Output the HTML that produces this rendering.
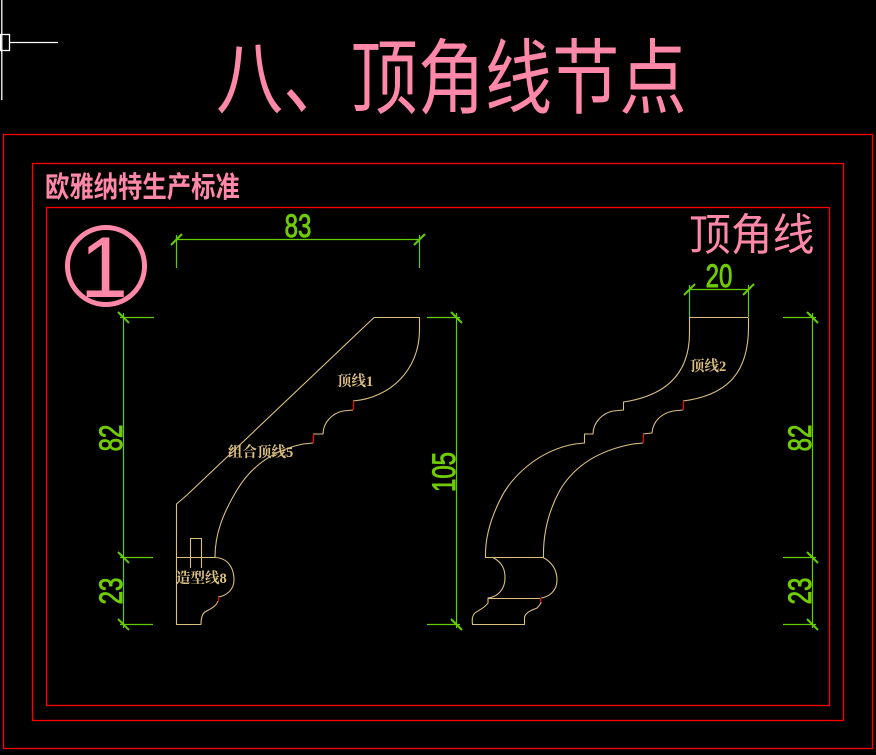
<!DOCTYPE html>
<html>
<head>
<meta charset="utf-8">
<style>
html,body{margin:0;padding:0;background:#000;}
body{width:876px;height:755px;overflow:hidden;}
svg{display:block;}
.cjk{font-family:"Liberation Sans","Noto Sans CJK SC",sans-serif;}
.lbl{font-family:"Liberation Serif","Noto Serif CJK SC",serif;font-weight:bold;fill:#dcc080;font-size:14.5px;}
.dim{font-family:"Liberation Sans",sans-serif;fill:#70cc00;stroke:#70cc00;stroke-width:0.9px;font-size:32px;}
</style>
</head>
<body>
<svg width="876" height="755" viewBox="0 0 876 755" xmlns="http://www.w3.org/2000/svg">
<rect width="876" height="755" fill="#000"/>

<!-- crosshair -->
<g stroke="#fff" stroke-width="1.3" fill="none">
  <line x1="1.8" y1="0" x2="1.8" y2="100"/>
  <line x1="9.5" y1="42.5" x2="58" y2="42.5"/>
  <rect x="0.5" y="34.5" width="9" height="16"/>
</g>

<!-- title -->
<text class="cjk" transform="translate(216,107) scale(0.82,1)" font-size="82" fill="#ff88a8">八、顶角线节点</text>

<!-- frames -->
<g stroke="#ff0000" stroke-width="1.3" fill="none">
  <rect x="3.5" y="134.5" width="869" height="614"/>
  <rect x="32.5" y="163.5" width="811" height="557"/>
  <rect x="46.5" y="207.5" width="783" height="498"/>
</g>

<text class="cjk" transform="translate(45,197) scale(0.84,1)" font-size="29" font-weight="bold" fill="#ff88a8">欧雅纳特生产标准</text>
<text class="cjk" transform="translate(689,250) scale(0.95,1)" font-size="44" fill="#ff88a8">顶角线</text>

<!-- circled 1 -->
<circle cx="106" cy="266" r="38.5" fill="none" stroke="#ff88a8" stroke-width="5"/>
<text x="104" y="297" text-anchor="middle" font-family="Liberation Sans, sans-serif" font-size="86" fill="#ff88a8">1</text>

<!-- dimensions (green) -->
<g stroke="#66cc00" stroke-width="1.2" fill="none">
  <!-- 83 -->
  <line x1="176" y1="239.5" x2="419" y2="239.5"/>
  <line x1="176.5" y1="235" x2="176.5" y2="268"/>
  <line x1="419.5" y1="235" x2="419.5" y2="268"/>
  <!-- 20 -->
  <line x1="689" y1="289.5" x2="748" y2="289.5"/>
  <line x1="689.5" y1="285" x2="689.5" y2="317"/>
  <line x1="748.5" y1="285" x2="748.5" y2="317"/>
  <!-- left vertical -->
  <line x1="123.5" y1="313" x2="123.5" y2="628"/>
  <line x1="120" y1="317.5" x2="154" y2="317.5"/>
  <line x1="120" y1="557.5" x2="153" y2="557.5"/>
  <line x1="120" y1="624.5" x2="153" y2="624.5"/>
  <!-- 105 -->
  <line x1="456.5" y1="313" x2="456.5" y2="628"/>
  <line x1="427" y1="317.5" x2="460" y2="317.5"/>
  <line x1="427" y1="624.5" x2="460" y2="624.5"/>
  <!-- right vertical -->
  <line x1="812.5" y1="313" x2="812.5" y2="628"/>
  <line x1="783" y1="317.5" x2="816" y2="317.5"/>
  <line x1="783" y1="557.5" x2="816" y2="557.5"/>
  <line x1="783" y1="624.5" x2="816" y2="624.5"/>
</g>
<g stroke="#66cc00" stroke-width="2" fill="none">
  <!-- ticks horizontal -->
  <line x1="171" y1="245" x2="182" y2="234"/>
  <line x1="414" y1="245" x2="425" y2="234"/>
  <line x1="684" y1="295" x2="695" y2="284"/>
  <line x1="743" y1="295" x2="754" y2="284"/>
  <!-- ticks vertical -->
  <line x1="118" y1="312" x2="129" y2="323"/>
  <line x1="118" y1="552" x2="129" y2="563"/>
  <line x1="118" y1="619" x2="129" y2="630"/>
  <line x1="451" y1="312" x2="462" y2="323"/>
  <line x1="451" y1="619" x2="462" y2="630"/>
  <line x1="807" y1="312" x2="818" y2="323"/>
  <line x1="807" y1="552" x2="818" y2="563"/>
  <line x1="807" y1="619" x2="818" y2="630"/>
</g>
<text class="dim" text-anchor="middle" transform="translate(298,237) scale(0.75,1)">83</text>
<text class="dim" text-anchor="middle" transform="translate(719,287) scale(0.75,1)">20</text>
<text class="dim" text-anchor="middle" transform="translate(122,438) rotate(-90) scale(0.75,1)">82</text>
<text class="dim" text-anchor="middle" transform="translate(122,591) rotate(-90) scale(0.75,1)">23</text>
<text class="dim" text-anchor="middle" transform="translate(455,472) rotate(-90) scale(0.75,1)">105</text>
<text class="dim" text-anchor="middle" transform="translate(811,438) rotate(-90) scale(0.75,1)">82</text>
<text class="dim" text-anchor="middle" transform="translate(811,591) rotate(-90) scale(0.75,1)">23</text>

<!-- profile 1 -->
<g stroke="#dcc080" stroke-width="1.1" fill="none" stroke-linejoin="round">
  <path d="M374,317.5 L419.5,317.5 L419.5,330 C419.5,370 390,398 353,401"/>
  <path d="M353,410 L343,411 C333,413 323,422 323,434 L313,434"/>
  <path d="M313,443 L303,444 C275,450 252,465 237,490 C222,515 215,535 215,557"/>
  <path d="M176.5,557.5 L215,557.5 C228,558 234,568 234,580 C234,590 226,596 218,597"/>
  <path d="M218,601 C216,607 210,609 205,612 C202,614 201,618 201,624.5 L176.5,624.5 L176.5,504 L187,495 L374,317.5"/>
  <path d="M190.5,568 L190.5,538.5 L201.5,538.5 L201.5,568"/>
</g>
<g stroke="#ff0000" stroke-width="1.2" fill="none">
  <line x1="353.5" y1="401" x2="353.5" y2="410"/>
  <line x1="313.5" y1="434" x2="313.5" y2="443"/>
  <line x1="218.5" y1="597" x2="218.5" y2="601"/>
</g>
<text class="lbl" x="337" y="386">顶线1</text>
<text class="lbl" x="228" y="457">组合顶线5</text>
<text class="lbl" x="176" y="583">造型线8</text>

<!-- profile 2 -->
<g stroke="#dcc080" stroke-width="1.1" fill="none" stroke-linejoin="round">
  <path d="M689,317.5 L748,317.5"/>
  <path d="M689.5,317.5 L689.5,333 C689.5,370 670,395 623.5,402 L623.5,410 L613,411 C603,413 593,422 593,434 L584.5,434 L584.5,443 L575,444 C540,450 512,475 500,500 C490,520 485,540 485.5,557.5"/>
  <path d="M748.5,317.5 L748.5,327 C748.5,370 730,395 683,401"/>
  <path d="M683,410 L673,411 C663,413 653,420 652,433 L643,434"/>
  <path d="M643,443 L633,444 C600,450 575,465 560,490 C548,512 543,535 543.5,557.5"/>
  <path d="M485,557.5 L543,557.5"/>
  <path d="M493,557.5 C503,563 505,570 505,578 C505,590 497,597 488,598 L488,603 C484,609 476,611 474,614 C472,617 472,620 472.5,624.5 L524.5,624.5 L524.5,617 C526,612 532,610 537,608 C540,605 541,603 541,602"/>
  <path d="M488,598.5 L541,598.5"/>
  <path d="M543,557.5 C552,562 557,570 557,580 C557,592 548,597 541,598"/>
</g>
<g stroke="#ff0000" stroke-width="1.2" fill="none">
  <line x1="683.5" y1="401" x2="683.5" y2="410"/>
  <line x1="643.5" y1="434" x2="643.5" y2="443"/>
  <line x1="540.5" y1="598" x2="540.5" y2="602"/>
</g>
<text class="lbl" x="690" y="371">顶线2</text>
</svg>
</body>
</html>
